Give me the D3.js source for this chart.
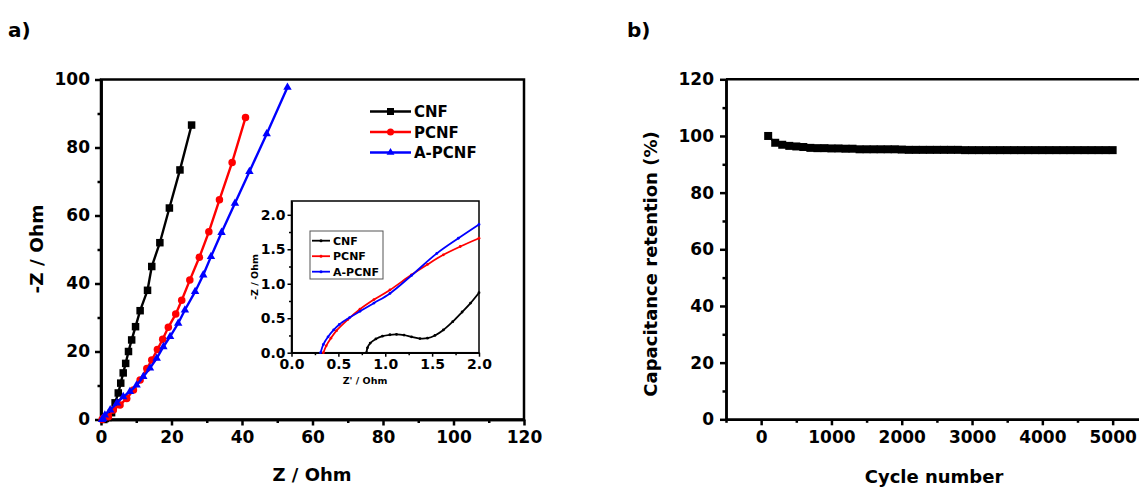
<!DOCTYPE html>
<html>
<head>
<meta charset="utf-8">
<script src="https://cdn.jsdelivr.net/npm/d3@7"></script>
<style>
  body { margin: 0; background: #fff; }
  svg { display: block; font-family: "DejaVu Sans", sans-serif; font-weight: bold; }
</style>
</head>
<body>
<svg id="chart" width="1139" height="488"></svg>
<script>
// ── Nyquist plot (a) main panel ──
const cnfRe   = [0.8, 1.2, 2.0, 3.0, 4.0, 4.9, 5.6, 6.3, 7.0, 7.8, 8.7, 9.8, 11.1, 13.2, 14.4, 16.7, 19.4, 22.4, 25.7];
const cnfIm   = [0, 0.3, 0.6, 2.0, 4.9, 7.8, 10.7, 13.7, 16.5, 20, 23.4, 27.3, 32, 38, 45, 52, 62.2, 73.4, 86.6];
const pcnfRe  = [0.33, 0.6, 1.0, 2.1, 3.5, 5.4, 7.3, 9.2, 11.1, 13, 14.4, 16, 17.5, 19.1, 21.2, 22.9, 25.2, 27.9, 30.6, 33.6, 37.2, 41];
const pcnfIm  = [0, 0.3, 0.6, 0.8, 2.8, 4.3, 6.2, 8.7, 11.6, 15, 17.5, 20.6, 23.6, 27.1, 31, 35.1, 41, 47.7, 55.2, 64.6, 75.6, 88.8];
const apcnfRe = [0.3, 0.6, 1.1, 2.6, 4.5, 6.3, 8.2, 10.1, 12, 13.9, 15.8, 17.7, 19.6, 21.9, 23.8, 26.7, 29, 31.2, 34.2, 38, 42.1, 47, 52.9];
const apcnfIm = [0, 0.3, 1.3, 2.8, 4.8, 6.7, 8.2, 10.1, 12.6, 15.1, 18, 21.4, 24.4, 28.3, 32.2, 37.6, 42.5, 47.9, 55, 63.6, 72.9, 84, 97.7];

// ── Inset (high-frequency region) ──
const inCnfRe   = [0.80, 0.81, 0.84, 0.90, 0.97, 1.05, 1.12, 1.20, 1.28, 1.37, 1.45, 1.53, 1.62, 1.72, 1.82, 1.91, 2.0];
const inCnfIm   = [0, 0.07, 0.14, 0.20, 0.24, 0.26, 0.265, 0.255, 0.23, 0.205, 0.21, 0.25, 0.33, 0.45, 0.59, 0.72, 0.87];
const inPcnfRe  = [0.34, 0.37, 0.42, 0.48, 0.60, 0.73, 0.88, 1.05, 1.28, 1.45, 1.62, 1.80, 2.0];
const inPcnfIm  = [0, 0.10, 0.21, 0.32, 0.48, 0.63, 0.77, 0.91, 1.13, 1.28, 1.42, 1.54, 1.66];
const inApcnfRe = [0.31, 0.34, 0.39, 0.45, 0.51, 0.62, 0.73, 0.88, 1.05, 1.28, 1.55, 1.78, 2.0];
const inApcnfIm = [0, 0.12, 0.23, 0.33, 0.41, 0.51, 0.60, 0.72, 0.86, 1.12, 1.44, 1.66, 1.86];

// ── Cycling stability (b) ──
const cycles = [100, 200, 300, 400, 500, 600, 700, 800, 900, 1000,
  1100, 1200, 1300, 1400, 1500, 1600, 1700, 1800, 1900, 2000,
  2100, 2200, 2300, 2400, 2500, 2600, 2700, 2800, 2900, 3000,
  3100, 3200, 3300, 3400, 3500, 3600, 3700, 3800, 3900, 4000,
  4100, 4200, 4300, 4400, 4500, 4600, 4700, 4800, 4900, 5000];
const retention = [100.0, 97.6, 96.9, 96.5, 96.3, 96.1, 95.8, 95.7, 95.7, 95.6,
  95.6, 95.5, 95.5, 95.3, 95.3, 95.3, 95.3, 95.3, 95.3, 95.2,
  95.1, 95.1, 95.1, 95.1, 95.1, 95.1, 95.1, 95.1, 95.0, 95.0,
  95.0, 95.0, 95.0, 95.0, 95.0, 95.0, 95.0, 95.0, 95.0, 95.0,
  95.0, 95.0, 95.0, 95.0, 95.0, 95.0, 95.0, 95.0, 95.0, 95.0];

const seriesNames = ['CNF', 'PCNF', 'A-PCNF'];
const seriesColors = ['#000000', '#ff0000', '#0000ff'];

const svg = d3.select('#chart');
const zip = (a, b) => a.map((v, i) => [v, b[i]]);

// draws bottom + left axes with major/minor ticks and styled labels
function drawAxes(x, y, o) {
  const g = svg.append('g');
  const yBase = y.range()[0], xBase = x.range()[0];

  g.append('g').attr('transform', `translate(0,${yBase})`)
    .call(d3.axisBottom(x).tickValues(o.xMinor).tickSize(o.minor).tickSizeOuter(0).tickFormat(''));
  g.append('g').attr('transform', `translate(${xBase},0)`)
    .call(d3.axisLeft(y).tickValues(o.yMinor).tickSize(o.minor).tickSizeOuter(0).tickFormat(''));

  g.append('g').attr('transform', `translate(0,${yBase})`)
    .call(d3.axisBottom(x).tickValues(o.xMajor).tickSize(o.major).tickSizeOuter(0)
      .tickPadding(o.xPad).tickFormat(o.fmt));
  g.append('g').attr('transform', `translate(${xBase},0)`)
    .call(d3.axisLeft(y).tickValues(o.yMajor).tickSize(o.major).tickSizeOuter(0)
      .tickPadding(o.yPad).tickFormat(o.fmt));

  g.selectAll('path, line').attr('stroke', '#000').attr('stroke-width', o.sw);
  g.selectAll('text')
    .attr('fill', '#000')
    .style('font-family', '"DejaVu Sans", sans-serif')
    .style('font-weight', 'bold')
    .style('font-size', o.fs + 'px');
  return g;
}

function drawMarker(sel, shape, size, color) {
  if (shape === 'square') {
    sel.append('rect').attr('x', -size / 2).attr('y', -size / 2)
      .attr('width', size).attr('height', size).attr('fill', color);
  } else if (shape === 'circle') {
    sel.append('circle').attr('r', size / 2).attr('fill', color);
  } else {
    sel.append('path').attr('d', d3.symbol(d3.symbolTriangle, size * size * 0.55)()).attr('fill', color);
  }
}

// ───────── Panel a) ─────────
const xa = d3.scaleLinear().domain([0, 120]).range([101, 524]);
const ya = d3.scaleLinear().domain([0, 100]).range([419.5, 79.5]);

svg.append('rect').attr('x', 101).attr('y', 79.5).attr('width', 423).attr('height', 340)
  .attr('fill', 'none').attr('stroke', '#000').attr('stroke-width', 2.5);

drawAxes(xa, ya, {
  xMajor: d3.range(0, 121, 20), xMinor: d3.range(10, 120, 20),
  yMajor: d3.range(0, 101, 20), yMinor: d3.range(10, 100, 20),
  major: 6, minor: 3.5, xPad: 5, yPad: 5, sw: 2.5, fs: 17, fmt: d3.format('d')
});

const mainSeries = [
  { re: cnfRe, im: cnfIm, shape: 'square' },
  { re: pcnfRe, im: pcnfIm, shape: 'circle' },
  { re: apcnfRe, im: apcnfIm, shape: 'triangle' }
];
const lineA = d3.line().x(d => xa(d[0])).y(d => ya(d[1]));
mainSeries.forEach((s, i) => {
  const pts = zip(s.re, s.im);
  svg.append('path').datum(pts)
    .attr('fill', 'none').attr('stroke', seriesColors[i]).attr('stroke-width', 2.4)
    .attr('d', lineA);
  svg.append('g').selectAll('g').data(pts).enter().append('g')
    .attr('transform', d => `translate(${xa(d[0])},${ya(d[1])})`)
    .each(function() { drawMarker(d3.select(this), s.shape, 7.5, seriesColors[i]); });
});

// main legend
const legA = svg.append('g');
['square', 'circle', 'triangle'].forEach((shape, i) => {
  const yy = 111.5 + i * 20.5;
  legA.append('line').attr('x1', 370).attr('x2', 411).attr('y1', yy).attr('y2', yy)
    .attr('stroke', seriesColors[i]).attr('stroke-width', 2.5);
  const m = legA.append('g').attr('transform', `translate(390.5,${yy})`);
  drawMarker(m, shape, 7, seriesColors[i]);
  legA.append('text').attr('x', 414).attr('y', yy + 5.5)
    .style('font-size', '15px').attr('fill', '#000').text(seriesNames[i]);
});

// axis titles a)
svg.append('text').attr('x', 312).attr('y', 481).attr('text-anchor', 'middle')
  .style('font-size', '18px').text('Z / Ohm');
svg.append('text').attr('transform', 'translate(43,249) rotate(-90)').attr('text-anchor', 'middle')
  .style('font-size', '18.5px').text('-Z / Ohm');
svg.append('text').attr('x', 8).attr('y', 37).style('font-size', '20px').text('a)');

// ── inset ──
const xi = d3.scaleLinear().domain([0, 2]).range([291.5, 479]);
const yi = d3.scaleLinear().domain([0, 2.2]).range([352.7, 201]);

svg.append('rect').attr('x', 291.5).attr('y', 201).attr('width', 187.5).attr('height', 151.7)
  .attr('fill', '#fff').attr('stroke', '#000').attr('stroke-width', 1.5);

drawAxes(xi, yi, {
  xMajor: d3.range(0, 2.01, 0.5), xMinor: d3.range(0.25, 2, 0.5),
  yMajor: d3.range(0, 2.01, 0.5), yMinor: d3.range(0.25, 2.2, 0.5),
  major: 4, minor: 2.5, xPad: 2, yPad: 2, sw: 1.5, fs: 14, fmt: d3.format('.1f')
});

const insetSeries = [
  zip(inCnfRe, inCnfIm), zip(inPcnfRe, inPcnfIm), zip(inApcnfRe, inApcnfIm)
];
const lineI = d3.line().x(d => xi(d[0])).y(d => yi(d[1])).curve(d3.curveCatmullRom);
insetSeries.forEach((pts, i) => {
  svg.append('path').datum(pts)
    .attr('fill', 'none').attr('stroke', seriesColors[i]).attr('stroke-width', 1.8)
    .attr('d', lineI);
  svg.append('g').selectAll('circle').data(pts).enter().append('circle')
    .attr('cx', d => xi(d[0])).attr('cy', d => yi(d[1])).attr('r', 1.4)
    .attr('fill', seriesColors[i]);
});

const legI = svg.append('g');
legI.append('rect').attr('x', 310).attr('y', 231).attr('width', 73).attr('height', 48)
  .attr('fill', '#fff').attr('stroke', '#555').attr('stroke-width', 1);
seriesNames.forEach((name, i) => {
  const yy = 240.7 + i * 15.5;
  legI.append('line').attr('x1', 312).attr('x2', 330).attr('y1', yy).attr('y2', yy)
    .attr('stroke', seriesColors[i]).attr('stroke-width', 1.8);
  legI.append('circle').attr('cx', 321).attr('cy', yy).attr('r', 1.5).attr('fill', seriesColors[i]);
  legI.append('text').attr('x', 333).attr('y', yy + 4).style('font-size', '11px').text(name);
});

svg.append('text').attr('x', 365).attr('y', 384).attr('text-anchor', 'middle')
  .style('font-size', '9.5px').text("Z' / Ohm");
svg.append('text').attr('transform', 'translate(258,277) rotate(-90)').attr('text-anchor', 'middle')
  .style('font-size', '9.5px').text('-Z / Ohm');

// ───────── Panel b) ─────────
const xb = d3.scaleLinear().domain([-500, 5500]).range([726, 1147.8]);
const yb = d3.scaleLinear().domain([0, 120]).range([419.3, 79.3]);

svg.append('line').attr('x1', 726).attr('x2', 1147.8).attr('y1', 79.3).attr('y2', 79.3)
  .attr('stroke', '#000').attr('stroke-width', 2.5);

drawAxes(xb, yb, {
  xMajor: d3.range(0, 5001, 1000), xMinor: d3.range(-500, 5501, 1000),
  yMajor: d3.range(0, 121, 20), yMinor: d3.range(10, 120, 20),
  major: 6, minor: 3.5, xPad: 6, yPad: 6, sw: 2.5, fs: 17, fmt: d3.format('d')
});

const retPts = zip(cycles, retention);
svg.append('path').datum(retPts)
  .attr('fill', 'none').attr('stroke', '#000').attr('stroke-width', 2)
  .attr('d', d3.line().x(d => xb(d[0])).y(d => yb(d[1])));
svg.append('g').selectAll('rect').data(retPts).enter().append('rect')
  .attr('x', d => xb(d[0]) - 4).attr('y', d => yb(d[1]) - 4)
  .attr('width', 8).attr('height', 8).attr('fill', '#000');

svg.append('text').attr('x', 934).attr('y', 483).attr('text-anchor', 'middle')
  .style('font-size', '18px').text('Cycle number');
svg.append('text').attr('transform', 'translate(657,264) rotate(-90)').attr('text-anchor', 'middle')
  .style('font-size', '18px').text('Capacitance retention (%)');
svg.append('text').attr('x', 627).attr('y', 37).style('font-size', '20px').text('b)');
</script>
</body>
</html>
